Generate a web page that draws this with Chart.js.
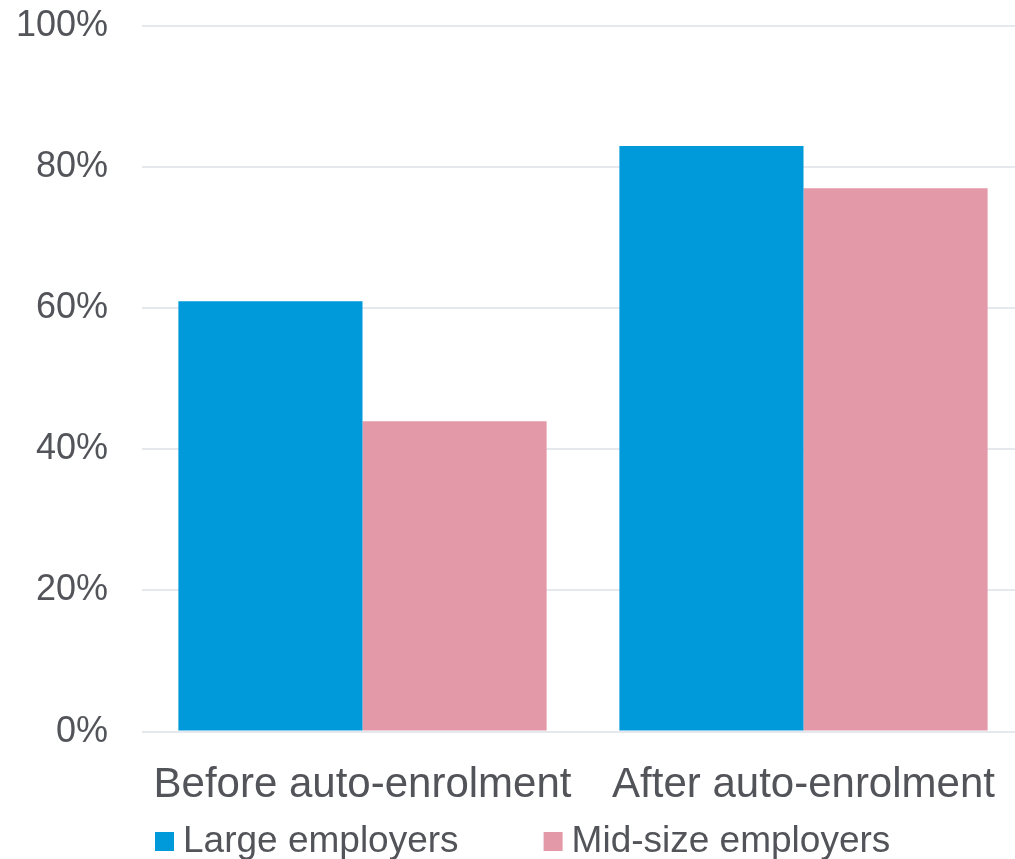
<!DOCTYPE html>
<html>
<head>
<meta charset="utf-8">
<script src="https://cdn.jsdelivr.net/npm/chart.js@4.4.1/dist/chart.umd.min.js"></script>
<style>
  html, body { margin: 0; padding: 0; background: #fff; overflow: hidden; }
  #wrap { width: 1015px; height: 859px; overflow: hidden; }
  #box { width: 1025px; height: 859px; position: relative; }
</style>
</head>
<body>
<div id="wrap"><div id="box"><canvas id="barChart"></canvas></div></div>
<script>
const categories = ['Before auto-enrolment', 'After auto-enrolment'];
const seriesNames = ['Large employers', 'Mid-size employers'];
const largeValues = [61, 83];
const midValues = [44, 77];
const yTicks = [0, 20, 40, 60, 80, 100];

const colors = ['#0099da', '#e499a9'];
const textColor = '#525459';
const fontFamily = '"Liberation Sans", Arial, sans-serif';

// leyenda propia: cuadro + texto, abajo
const bottomLegend = {
    id: 'bottomLegend',
    afterDraw(chart) {
        const ctx = chart.ctx;
        ctx.save();
        ctx.font = '37px ' + fontFamily;
        ctx.textBaseline = 'alphabetic';
        const box = 19, gapText = 9, gapItem = 85;
        let x = 155;
        chart.data.datasets.forEach(ds => {
            ctx.fillStyle = ds.backgroundColor;
            ctx.fillRect(x, 832, box, box);
            ctx.fillStyle = textColor;
            ctx.fillText(ds.label, x + box + gapText, 852);
            x += box + gapText + ctx.measureText(ds.label).width + gapItem;
        });
        ctx.restore();
    }
};

new Chart(document.getElementById('barChart'), {
    type: 'bar',
    data: {
        labels: categories,
        datasets: [
            { label: seriesNames[0], data: largeValues, backgroundColor: colors[0] },
            { label: seriesNames[1], data: midValues, backgroundColor: colors[1] }
        ]
    },
    options: {
        responsive: true,
        maintainAspectRatio: false,
        animation: false,
        layout: { padding: { left: 16, right: 1, top: 26, bottom: 19 } },
        datasets: { bar: { categoryPercentage: 0.835, barPercentage: 1.0 } },
        plugins: {
            legend: { display: false },
            tooltip: { enabled: false }
        },
        scales: {
            x: {
                grid: { display: false, drawTicks: false },
                border: { display: false },
                ticks: {
                    color: textColor,
                    padding: 29,
                    maxRotation: 0,
                    font: { family: fontFamily, size: 42 }
                }
            },
            y: {
                min: 0,
                max: 100,
                afterBuildTicks: axis => { axis.ticks = yTicks.map(v => ({ value: v })); },
                afterFit: axis => {
                    axis.width = 126;
                    axis.paddingTop = 0;
                    axis.paddingBottom = 0;
                },
                grid: { color: '#e5e9ee', lineWidth: 2, drawTicks: false },
                border: { display: false },
                ticks: {
                    color: textColor,
                    padding: 34,
                    font: { family: fontFamily, size: 36 },
                    callback: v => v + '%'
                }
            }
        }
    },
    plugins: [bottomLegend]
});
</script>
</body>
</html>
